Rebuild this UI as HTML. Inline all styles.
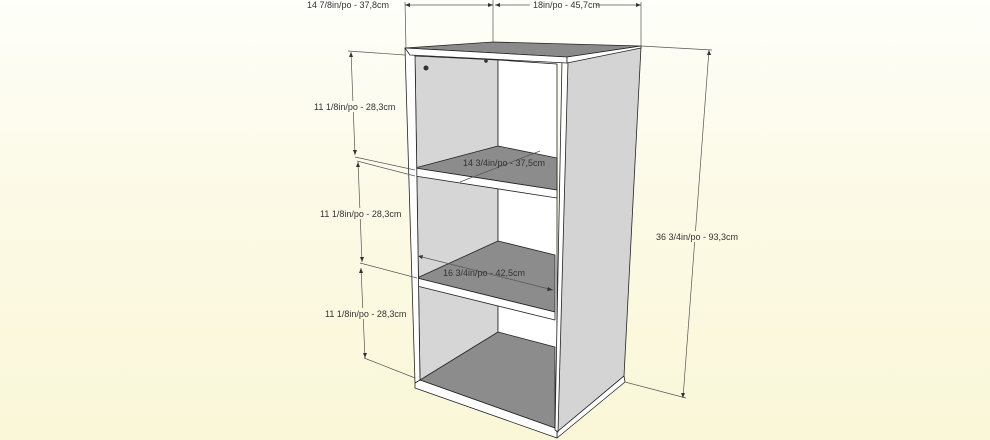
<!DOCTYPE html>
<html><head><meta charset="utf-8"><style>
html,body{margin:0;padding:0;}
body{width:990px;height:440px;overflow:hidden;background:linear-gradient(#fefefa 0%,#fcfae6 45%,#faf7d8 100%);}
svg{display:block}
text{font-family:"Liberation Sans",sans-serif;font-size:9px;fill:#333;}
</style></head><body>
<svg width="990" height="440" viewBox="0 0 990 440" xmlns="http://www.w3.org/2000/svg">
<g stroke="#222" stroke-width="0.8" stroke-linejoin="round">
<polygon points="567,62 641,47 624,376 557,432" fill="#d4d4d4"/>
<polygon points="557,432 624,376 625,382 557,438" fill="#fff"/>
<polygon points="415,56 498,60 498,380 420,380" fill="#d6d6d6"/>
<polygon points="498,60 557,64 557,430 498,380" fill="#fff"/>
<polygon points="415,168 498,146 557,158 557,190" fill="#8c8c8c"/>
<polygon points="415,168 557,190 557,198 415,176" fill="#fff"/>
<polygon points="417,278 498,241 555,255 555,312" fill="#8c8c8c"/>
<polygon points="417,278 555,312 555,320 417,286" fill="#fff"/>
<polygon points="420,380 498,332 555,347 555,428" fill="#8c8c8c"/>
<polygon points="415,383 420,380 555,428 557,432 557,438 415,388" fill="#fff"/>
<polygon points="405,48 415,54 420,380 415,383" fill="#fff"/>
<polygon points="562,60 568,62 558,432 555,430" fill="#fff"/>
<polygon points="405,48 493,42 641,46 567,57" fill="#8a8a8a"/>
<polygon points="405,48 567,57 567,63 410,55" fill="#fff"/>
<polygon points="567,57 641,46 641,48 567,63" fill="#fff"/>
</g>
<circle cx="426" cy="68" r="2.5" fill="#333"/>
<circle cx="486" cy="61" r="1.8" fill="#333"/>
<g stroke="#555" stroke-width="0.7" fill="none">
<line x1="405" y1="5" x2="493" y2="5"/>
<line x1="495" y1="5" x2="641" y2="5"/>
<line x1="405" y1="2" x2="406" y2="48"/>
<line x1="493" y1="0" x2="493" y2="42"/>
<line x1="641" y1="2" x2="641" y2="46"/>
<line x1="351" y1="52" x2="355" y2="155"/>
<line x1="348" y1="51" x2="405" y2="55"/>
<line x1="355" y1="157" x2="415" y2="170"/>
<line x1="358" y1="162" x2="362" y2="262"/>
<line x1="357" y1="161" x2="415" y2="176"/>
<line x1="361" y1="268" x2="365" y2="358"/>
<line x1="360" y1="263" x2="417" y2="278"/>
<line x1="364" y1="358" x2="415" y2="378"/>
<line x1="709" y1="50" x2="683" y2="398"/>
<line x1="641" y1="46" x2="712" y2="50"/>
<line x1="625" y1="382" x2="686" y2="398"/>
<line x1="460" y1="182" x2="540" y2="151"/>
<line x1="418" y1="256" x2="553" y2="290"/>
</g>
<g fill="#333">
<polygon points="405,5 410,3 410,7"/><polygon points="493,5 488,3 488,7"/>
<polygon points="495,5 500,3 500,7"/><polygon points="641,5 636,3 636,7"/>
<polygon points="351,52 349,57 353,57"/><polygon points="355,155 353,150 357,150"/>
<polygon points="358,162 356,167 360,167"/><polygon points="362,262 360,257 364,257"/>
<polygon points="361,268 359,273 363,273"/><polygon points="365,358 363,353 367,353"/>
<polygon points="709,50 707,55 711,55"/><polygon points="683,398 681,393 685,393"/>
<polygon points="418,256 423,255 422,259"/><polygon points="553,290 548,287 547,291"/>
</g>
<g>
<rect x="305" y="0" width="95" height="10" fill="#fefefa"/>
<text x="307" y="8">14 7/8in/po - 37,8cm</text>
<rect x="530" y="0" width="66" height="10" fill="#fefefa"/>
<text x="533" y="8">18in/po - 45,7cm</text>
<rect x="311" y="101" width="93" height="11" fill="#fdfcf0"/>
<text x="314" y="110">11 1/8in/po - 28,3cm</text>
<rect x="317" y="208" width="82" height="11" fill="#fcfae6"/>
<text x="320" y="217">11 1/8in/po - 28,3cm</text>
<rect x="322" y="308" width="82" height="11" fill="#fbf9e0"/>
<text x="325" y="317">11 1/8in/po - 28,3cm</text>
<rect x="654" y="231" width="92" height="11" fill="#fcfae4"/>
<text x="656" y="240">36 3/4in/po - 93,3cm</text>
<text x="463" y="166">14 3/4in/po - 37,5cm</text>
<text x="443" y="276">16 3/4in/po - 42,5cm</text>
</g>
</svg>
</body></html>
